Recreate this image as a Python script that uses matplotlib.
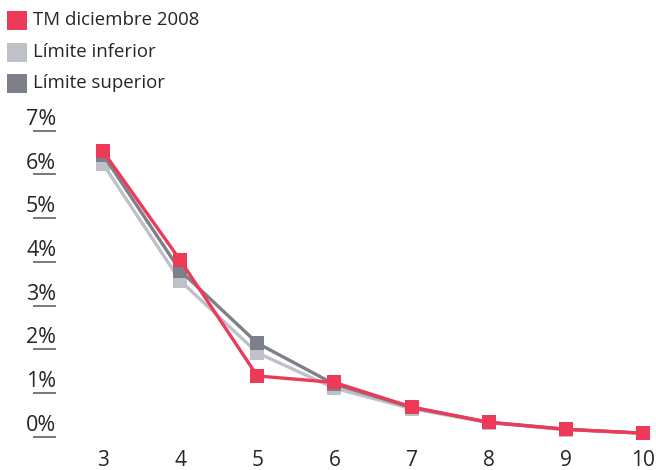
import matplotlib
matplotlib.use("Agg")
import matplotlib.pyplot as plt
from matplotlib.patches import Rectangle
import matplotlib.transforms as mtransforms

plt.rcParams['font.family'] = ['Open Sans', 'DejaVu Sans']

# Plazo (años) y tasas en %
plazos = [3, 4, 5, 6, 7, 8, 9, 10]
tm_dic_2008 = [6.53, 4.04, 1.39, 1.24, 0.68, 0.33, 0.17, 0.08]
limite_inferior = [6.24, 3.57, 1.92, 1.11, 0.64, 0.32, 0.16, 0.08]
limite_superior = [6.45, 3.80, 2.14, 1.20, 0.67, 0.33, 0.17, 0.08]
ytick_vals = [0, 1, 2, 3, 4, 5, 6, 7]
ytick_text = ['0%', '1%', '2%', '3%', '4%', '5%', '6%', '7%']

series_names = ['TM diciembre 2008', 'Límite inferior', 'Límite superior']
c_red = '#EE3A59'
c_light = '#BEC1C7'
c_dark = '#7D8089'
text_color = '#262626'

W, H = 656, 470
fig = plt.figure(figsize=(W / 100, H / 100), dpi=100)
ax = fig.add_axes([103 / W, (H - 436.7) / H, 540 / W, 306 / H])

ax.plot(plazos, limite_inferior, color=c_light, lw=2.4, marker='s', ms=10.5,
        mew=0, zorder=2, clip_on=False)
ax.plot(plazos, limite_superior, color=c_dark, lw=2.4, marker='s', ms=10.5,
        mew=0, zorder=3, clip_on=False)
ax.plot(plazos, tm_dic_2008, color=c_red, lw=2.4, marker='s', ms=10.5,
        mew=0, zorder=4, clip_on=False)

ax.set_xlim(3, 10)
ax.set_ylim(0, 7)
for s in ax.spines.values():
    s.set_visible(False)

ax.set_xticks(plazos)
ax.set_xticklabels([str(p) for p in plazos])
ax.tick_params(axis='x', length=0, pad=9.5, labelsize=15, labelcolor=text_color)
ax.set_yticks([])

# Y labels with a short rule under each
ytr = ax.get_yaxis_transform()
x0 = (33 - 103) / 540
x1 = (55.7 - 103) / 540
lab_tr = mtransforms.offset_copy(ytr, fig=fig, x=0, y=0.6, units='points')
for v, t in zip(ytick_vals, ytick_text):
    ax.plot([x0, x1], [v, v], transform=ytr, color='#555555', lw=1.1,
            clip_on=False, solid_capstyle='butt')
    ax.text(x1 + 0.001, v, t, transform=lab_tr, ha='right', va='bottom',
            fontsize=15.5, color=text_color)

# Legend
colors = [c_red, c_light, c_dark]
rows_y = [20, 52, 83]
for name, c, yc in zip(series_names, colors, rows_y):
    fig.patches.append(Rectangle((7 / W, (H - yc - 9.5) / H), 20 / W, 19 / H,
                                 transform=fig.transFigure, color=c, lw=0))
    fig.text(33 / W, (H - yc) / H, name, ha='left', va='center',
             fontsize=13.4, color=text_color)

fig.savefig('out.png', dpi=100)
